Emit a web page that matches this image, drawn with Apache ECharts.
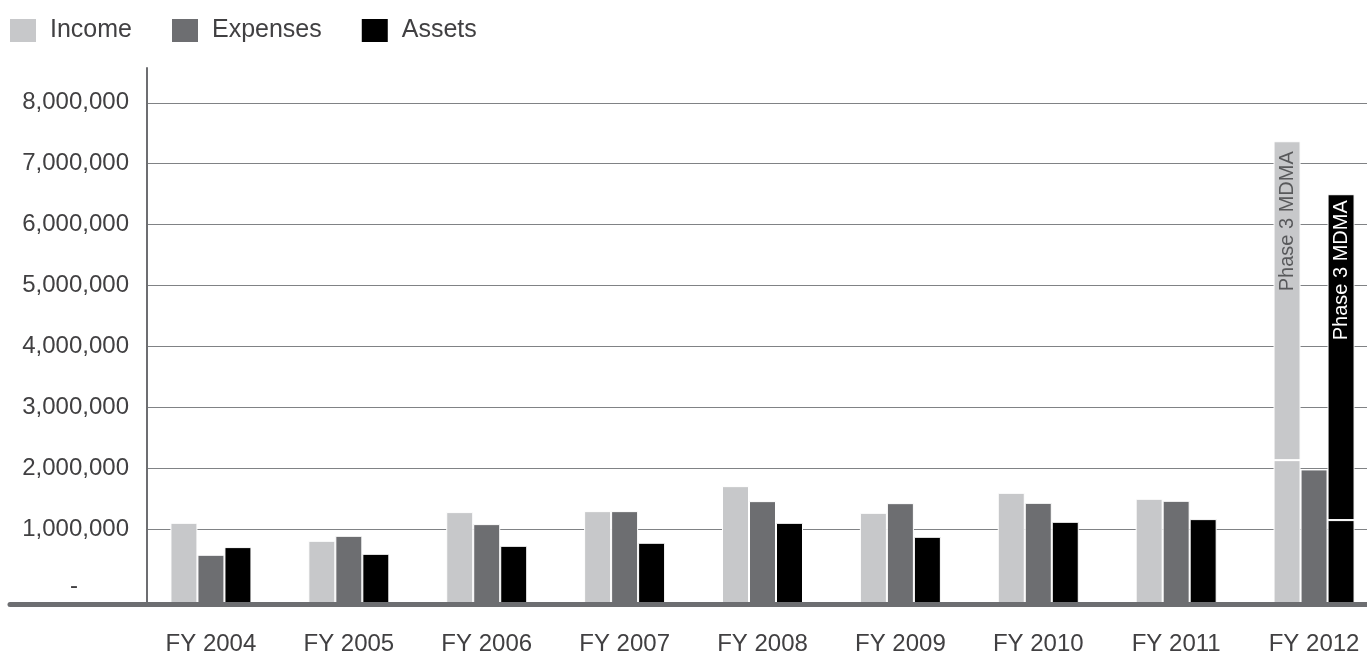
<!DOCTYPE html>
<html>
<head>
<meta charset="utf-8">
<script src="https://cdn.jsdelivr.net/npm/echarts@6/dist/echarts.min.js"></script>
<style>
html,body{margin:0;padding:0;background:#fff;}
#chart{width:1367px;height:651px;}
</style>
</head>
<body>
<div id="chart"></div>
<script>
const categories = ['FY 2004','FY 2005','FY 2006','FY 2007','FY 2008','FY 2009','FY 2010','FY 2011','FY 2012'];
const income = [1111000, 816000, 1287000, 1303000, 1713000, 1275000, 1603000, 1505000, 2139000];
const expenses = [587000, 898000, 1090000, 1303000, 1467000, 1434000, 1439000, 1472000, 1987000];
const assets = [713000, 603000, 734000, 784000, 1111000, 882000, 1128000, 1172000, 1156000];
const incomePhase3 = ['-','-','-','-','-','-','-','-', 5230000];
const assetsPhase3 = ['-','-','-','-','-','-','-','-', 5344000];
const yLabelValues = [0,1000000,2000000,3000000,4000000,5000000,6000000,7000000,8000000];
const yGridValues = [1000000,2000000,3000000,4000000,5000000,6000000,7000000,8000000];
const phaseLabel = 'Phase 3 MDMA';

const FONT = "'Liberation Sans', Arial, Helvetica, sans-serif";
const C_INC = '#c7c8ca', C_EXP = '#6d6e71', C_AST = '#000000';
const Y_MIN = -220000, Y_MAX = 8570000;
const TOP = 68, HEIGHT = 536;

const chart = echarts.init(document.getElementById('chart'), null, {renderer:'canvas'});
const fmt = v => (+v === 0) ? '{z|-}' : (+v).toLocaleString('en-US');

const barCommon = {
  type: 'bar', xAxisIndex: 0, yAxisIndex: 0,
  barWidth: 27, barGap: '0%',
  itemStyle: {borderColor: '#ffffff', borderWidth: 1},
  emphasis: {disabled: true},
  animation: false
};

chart.setOption({
  animation: false,
  textStyle: {fontFamily: FONT},
  legend: {
    left: 10, top: 18, padding: 0,
    itemWidth: 26, itemHeight: 23, itemGap: 40,
    icon: 'rect',
    itemStyle: {borderWidth: 0},
    data: ['Income','Expenses','Assets'],
    textStyle: {fontSize: 25, color: '#414042', fontFamily: FONT, padding: [0,0,0,9]},
    selectedMode: false
  },
  grid: [
    {left: 142, top: TOP, width: 1241, height: HEIGHT, outerBoundsMode: 'none', containLabel: false},
    {left: 147, top: TOP, right: 0, height: HEIGHT, outerBoundsMode: 'none', containLabel: false},
    {left: 10, top: TOP, right: 0, height: HEIGHT, outerBoundsMode: 'none', containLabel: false}
  ],
  xAxis: [
    {gridIndex: 0, type: 'category', data: categories,
     axisLine: {show: false, onZero: false}, axisTick: {show: false},
     axisLabel: {fontSize: 24, color: '#414042', margin: 28, fontFamily: FONT}},
    {gridIndex: 1, type: 'value', show: false, axisLine: {onZero: false}},
    {gridIndex: 2, type: 'value', z: 10,
     axisLine: {show: true, onZero: false, lineStyle: {color: '#6d6e71', width: 5}},
     axisTick: {show: false}, axisLabel: {show: false}, splitLine: {show: false}}
  ],
  yAxis: [
    {gridIndex: 0, type: 'value', min: Y_MIN, max: Y_MAX, startValue: Y_MIN, show: false,
     splitLine: {show: false}},
    {gridIndex: 1, type: 'value', min: Y_MIN, max: Y_MAX,
     axisLine: {show: true, onZero: false, lineStyle: {color: '#6d6e71', width: 2}},
     axisTick: {show: false, customValues: yGridValues},
     axisLabel: {customValues: yLabelValues, formatter: fmt, fontSize: 24, color: '#414042', margin: 18, fontFamily: FONT,
                 rich: {z: {fontSize: 24, color: '#414042', fontFamily: FONT, padding: [0, 51, 8, 0]}}},
     splitLine: {show: true, lineStyle: {color: '#808285', width: 1}}},
    {gridIndex: 2, type: 'value', min: Y_MIN, max: Y_MAX, show: false}
  ],
  series: [
    Object.assign({}, barCommon, {name: 'Income', stack: 'inc', data: income, itemStyle: Object.assign({}, barCommon.itemStyle, {color: C_INC})}),
    Object.assign({}, barCommon, {name: 'Expenses', stack: 'exp', data: expenses, itemStyle: Object.assign({}, barCommon.itemStyle, {color: C_EXP})}),
    Object.assign({}, barCommon, {name: 'Assets', stack: 'ast', data: assets, itemStyle: Object.assign({}, barCommon.itemStyle, {color: C_AST})}),
    Object.assign({}, barCommon, {name: 'Income Phase 3', stack: 'inc', data: incomePhase3,
      itemStyle: Object.assign({}, barCommon.itemStyle, {color: C_INC}),
      label: {show: true, formatter: phaseLabel, position: 'insideTop', distance: 10, rotate: 90,
              align: 'right', verticalAlign: 'middle', fontSize: 20, color: '#58595b', fontFamily: FONT}}),
    Object.assign({}, barCommon, {name: 'Assets Phase 3', stack: 'ast', data: assetsPhase3,
      itemStyle: Object.assign({}, barCommon.itemStyle, {color: C_AST}),
      label: {show: true, formatter: phaseLabel, position: 'insideTop', distance: 6, rotate: 90,
              align: 'right', verticalAlign: 'middle', fontSize: 20, color: '#ffffff', fontFamily: FONT}})
  ]
});
</script>
</body>
</html>
